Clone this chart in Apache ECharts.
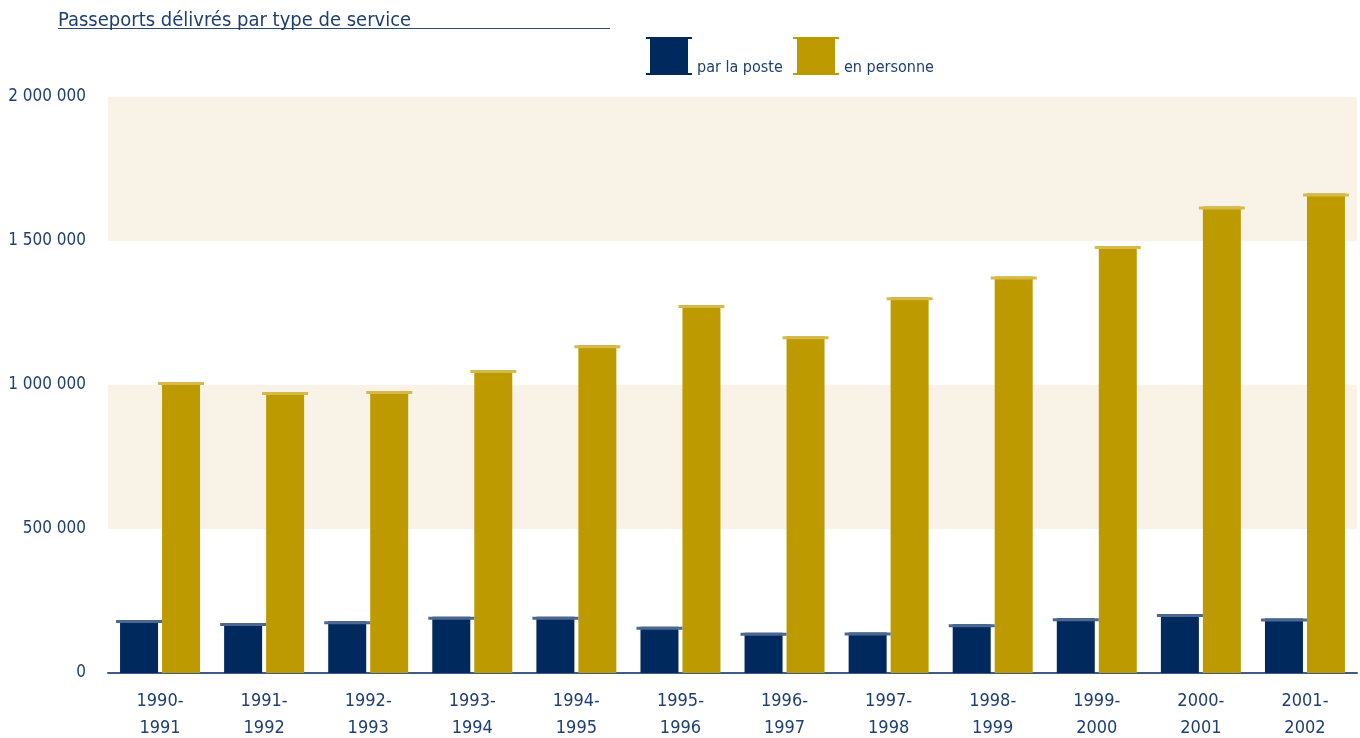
<!DOCTYPE html>
<html>
<head>
<meta charset="utf-8">
<script src="https://cdn.jsdelivr.net/npm/echarts@6/dist/echarts.min.js"></script>
<style>
html,body{margin:0;padding:0;background:#fff;}
#chart{width:1360px;height:738px;}
</style>
</head>
<body>
<div id="chart"></div>
<script>
const titleText = 'Passeports délivrés par type de service';
const categories = ['1990-\n1991','1991-\n1992','1992-\n1993','1993-\n1994','1994-\n1995','1995-\n1996','1996-\n1997','1997-\n1998','1998-\n1999','1999-\n2000','2000-\n2001','2001-\n2002'];
const seriesNames = ['par la poste', 'en personne'];
const parLaPoste = [184000, 174000, 180000, 195000, 195000, 161000, 140000, 141000, 169000, 190000, 205000, 189000];
const enPersonne = [1010000, 976000, 979000, 1052000, 1138000, 1278000, 1169000, 1305000, 1377000, 1483000, 1620000, 1665000];
const yTicks = [0, 500000, 1000000, 1500000, 2000000];

const FONT = '"DejaVu Sans Condensed", "Liberation Sans Narrow", "Roboto", sans-serif';
const TXT = '#1f3f73';
const BLUE = '#002a5e';
const GOLD = '#bd9b00';
const BLUE_CAP = '#4c6891';
const GOLD_CAP = '#d6b94a';
const ICON = 'path://M0,0 H46 V2 H42 V36 H46 V38 H0 V36 H4 V2 H0 Z';

function fmt(v){ return String(v).replace(/\B(?=(\d{3})+(?!\d))/g, ' '); }

const legendText = {fontFamily: FONT, fontSize: 16, color: TXT, lineHeight: 24};

const chart = echarts.init(document.getElementById('chart'), null, {renderer:'canvas'});
chart.setOption({
  backgroundColor: '#ffffff',
  animation: false,
  textStyle: {fontFamily: FONT},
  title: {
    text: titleText, left: 53, top: 6,
    textStyle: {fontFamily: FONT, fontSize: 20, fontWeight: 'normal', color: TXT}
  },
  graphic: [{
    type: 'line', shape: {x1: 58, y1: 28.5, x2: 610, y2: 28.5},
    style: {stroke: '#2b4a7c', lineWidth: 1}
  }],
  legend: [
    {data: [seriesNames[0]], left: 646, top: 32, padding: 0, itemWidth: 46, itemHeight: 38, icon: ICON,
     formatter: n => '\n' + n, textStyle: legendText},
    {data: [seriesNames[1]], left: 793, top: 32, padding: 0, itemWidth: 46, itemHeight: 38, icon: ICON,
     formatter: n => '\n' + n, textStyle: legendText}
  ],
  grid: {left: 108, right: 3, top: 97, bottom: 65, containLabel: false, outerBoundsMode: 'none'},
  xAxis: {
    type: 'category', data: categories,
    axisLine: {show: true, lineStyle: {color: '#3f5c88', width: 2}},
    axisTick: {show: false},
    axisLabel: {fontFamily: FONT, fontSize: 18, color: TXT, lineHeight: 27, margin: 15}
  },
  yAxis: {
    type: 'value', min: yTicks[0], max: yTicks[yTicks.length-1], interval: yTicks[1]-yTicks[0],
    axisLine: {show: false}, axisTick: {show: false},
    splitLine: {show: false},
    splitArea: {show: true, areaStyle: {color: ['rgba(255,255,255,0)', '#f9f2e7']}},
    axisLabel: {fontFamily: FONT, fontSize: 17, color: TXT, margin: 22, formatter: fmt, verticalAlign: 'bottom', padding: [0,0,-8,0]}
  },
  series: [
    {name: seriesNames[0], type: 'bar', data: parLaPoste, barWidth: 38, barGap: '10.5%', itemStyle: {color: BLUE}},
    {name: seriesNames[1], type: 'bar', data: enPersonne, barWidth: 38, barGap: '10.5%', itemStyle: {color: GOLD}},
    {name: 'cap1', type: 'pictorialBar', data: parLaPoste, barWidth: 38, barGap: '10.5%', symbol: 'rect',
     symbolSize: [46, 3], symbolPosition: 'end', itemStyle: {color: BLUE_CAP}, z: 5},
    {name: 'cap2', type: 'pictorialBar', data: enPersonne, barWidth: 38, barGap: '10.5%', symbol: 'rect',
     symbolSize: [46, 3], symbolPosition: 'end', itemStyle: {color: GOLD_CAP}, z: 5}
  ]
});
</script>
</body>
</html>
